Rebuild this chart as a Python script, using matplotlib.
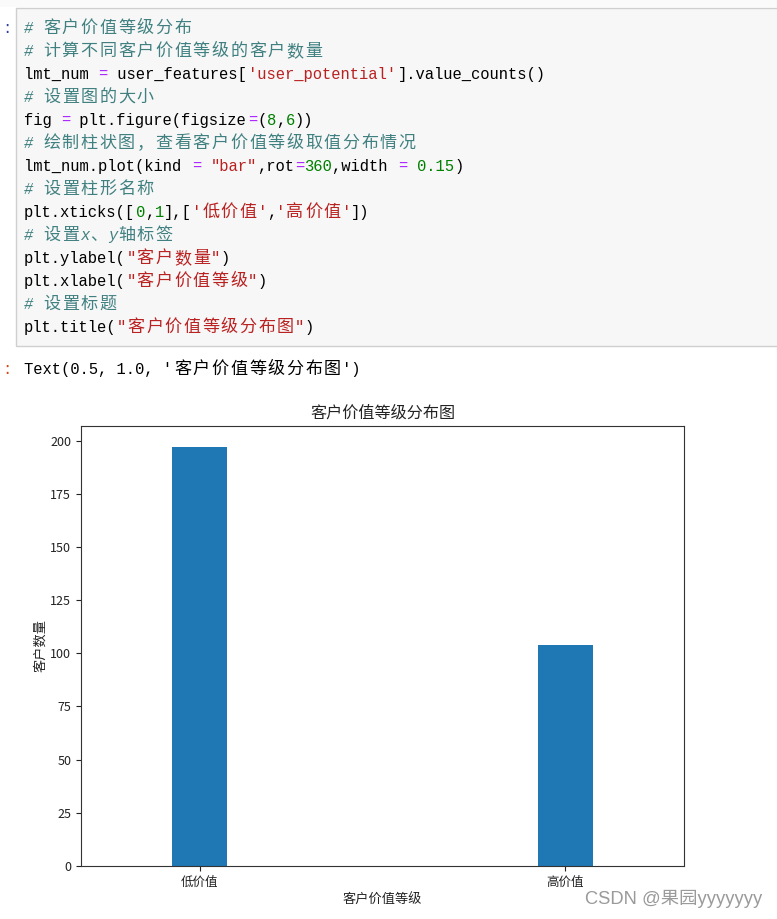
import matplotlib
matplotlib.use('Agg')
from matplotlib import pyplot as plt
from matplotlib.patches import Rectangle

W, H = 777, 919

# chart data
categories = ['低价值', '高价值']
counts = [197, 104]
bar_width = 0.15

# notebook cell text: (text, kind) segments per line
code_lines = [
    [('# 客户价值等级分布', 'c')],
    [('# 计算不同客户价值等级的客户数量', 'c')],
    [('lmt_num ', ''), ('=', 'o'), (' user_features[', ''), ("'user_potential'", 's'), ('].value_counts()', '')],
    [('# 设置图的大小', 'c')],
    [('fig ', ''), ('=', 'o'), (' plt.figure(figsize', ''), ('=', 'o'), ('(', ''), ('8', 'n'), (',', ''), ('6', 'n'), ('))', '')],
    [('# 绘制柱状图，查看客户价值等级取值分布情况', 'c')],
    [('lmt_num.plot(kind ', ''), ('=', 'o'), (' ', ''), ('"bar"', 's'), (',rot', ''), ('=', 'o'), ('360', 'n'),
     (',width ', ''), ('=', 'o'), (' ', ''), ('0.15', 'n'), (')', '')],
    [('# 设置柱形名称', 'c')],
    [('plt.xticks([', ''), ('0', 'n'), (',', ''), ('1', 'n'), ('],[', ''), ("'低价值'", 's'), (',', ''), ("'高价值'", 's'), ('])', '')],
    [('# 设置x、y轴标签', 'c')],
    [('plt.ylabel(', ''), ('"客户数量"', 's'), (')', '')],
    [('plt.xlabel(', ''), ('"客户价值等级"', 's'), (')', '')],
    [('# 设置标题', 'c')],
    [('plt.title(', ''), ('"客户价值等级分布图"', 's'), (')', '')],
]
output_line = [("Text(0.5, 1.0, '客户价值等级分布图')", '')]

colors = {'c': '#408080', 's': '#BA2121', 'n': '#008000', 'o': '#AA22FF', '': '#000000'}

CELL = 9.36
X0 = 23.5


def fx(x):
    return x / W


def fy(y):
    return 1 - y / H


def wide(ch):
    return ord(ch) > 0x2E80


def draw_line(fig, segs, baseline):
    col = 0
    for text, kind in segs:
        color = colors[kind]
        style = 'italic' if kind == 'c' else 'normal'
        run = ''
        run_col = col
        for ch in text + '\0':
            if ch != '\0' and not wide(ch):
                if not run:
                    run_col = col
                run += ch
                col += 1
                continue
            if run:
                fig.text(fx(X0 + run_col * CELL), fy(baseline), run, fontsize=11.2,
                         family=['Liberation Mono', 'DejaVu Sans Mono'], style=style,
                         color=color, ha='left', va='baseline')
                run = ''
            if ch == '\0':
                break
            fig.text(fx(X0 + (col + 1) * CELL), fy(baseline), ch, fontsize=12.3,
                     family=['Noto Sans CJK SC'], color=color, ha='center', va='baseline')
            col += 2


fig = plt.figure(figsize=(W / 100, H / 100), dpi=100)

# light strip above the cell and the cell box
fig.patches.append(Rectangle((0, fy(7)), 1, 7 / H, transform=fig.transFigure,
                             facecolor='#fafafa', edgecolor='none', zorder=0))
fig.patches.append(Rectangle((fx(16), fy(345.5)), 1, (345.5 - 8) / H, transform=fig.transFigure,
                             facecolor='#f7f7f7', edgecolor='#cfcfcf', linewidth=1, zorder=0))

fig.text(fx(2), fy(27 + 6), ':', fontsize=11.2, family='Liberation Mono', color='#303F9F',
         ha='left', va='baseline')
for i, segs in enumerate(code_lines):
    draw_line(fig, segs, 27 + 23 * i + 6)

fig.text(fx(2), fy(368 + 6), ':', fontsize=11.2, family='Liberation Mono', color='#D84315',
         ha='left', va='baseline')
draw_line(fig, output_line, 368 + 6)

# the chart
plt.rcParams['font.family'] = ['Noto Sans CJK SC', 'DejaVu Sans']
ax = fig.add_axes([fx(81), fy(866), (684 - 81) / W, (866 - 426) / H])
ax.bar(range(len(counts)), counts, width=bar_width, color='#1f77b4')
ax.set_xlim(-0.25 - bar_width / 2, len(counts) - 1 + 0.25 + bar_width / 2)
ax.set_xticks(range(len(categories)))
ax.set_xticklabels(categories)
ax.tick_params(labelsize=9, colors='#222222', labelcolor='#222222')
ax.set_ylabel('客户数量', fontsize=9.5, color='#222222', labelpad=2)
ax.set_xlabel('客户价值等级', fontsize=9.5, color='#222222')
ax.set_title('客户价值等级分布图', fontsize=11.6, color='#222222')
for s in ax.spines.values():
    s.set_color('#333333')

fig.text(fx(585), fy(899), 'CSDN @果园yyyyyyy', fontsize=13.2, color='#9a9a9a',
         family=['Liberation Sans', 'Noto Sans CJK SC'], ha='left', va='center')

fig.savefig('out.png', dpi=100)
